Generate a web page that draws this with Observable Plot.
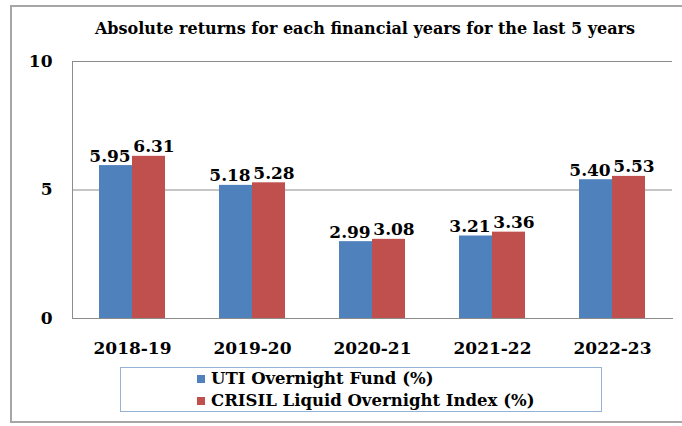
<!DOCTYPE html>
<html>
<head>
<meta charset="utf-8">
<script src="https://cdn.jsdelivr.net/npm/d3@7"></script>
<script src="https://cdn.jsdelivr.net/npm/@observablehq/plot@0.6"></script>
<style>
  html, body { margin: 0; padding: 0; background: #fff; overflow: hidden; width: 682px; height: 426px; }
  #wrap { position: relative; width: 682px; height: 426px; overflow: hidden; font-family: "DejaVu Serif", serif; font-weight: bold; color: #000; }
  #frame { position: absolute; left: 10px; top: 5px; width: 720px; height: 418px; border-left: 2px solid #a6a6a6; border-top: 2px solid #a6a6a6; border-bottom: 2px solid #a6a6a6; box-sizing: border-box; }
  #title { position: absolute; left: 48px; width: 634px; top: 20px; text-align: center; font-size: 16px; line-height: 17px; }
  #chart { position: absolute; left: 0; top: 0; }
  #legend { position: absolute; left: 120px; top: 367px; width: 482px; height: 45px; border: 1.5px solid #95b3d7; box-sizing: border-box; }
  .item { position: absolute; left: 76px; font-size: 16.5px; line-height: 19px; white-space: nowrap; }
  .sw { display: inline-block; width: 8px; height: 8px; margin-right: 6px; vertical-align: 1px; }
</style>
</head>
<body>
<div id="wrap">
  <div id="frame"></div>
  <div id="chart"></div>
  <div id="title"></div>
  <div id="legend"></div>
</div>
<script>
const titleText = "Absolute returns for each financial years for the last 5 years";
const years = ["2018-19", "2019-20", "2020-21", "2021-22", "2022-23"];
const seriesNames = ["UTI Overnight Fund (%)", "CRISIL Liquid Overnight Index (%)"];
const utiValues = [5.95, 5.18, 2.99, 3.21, 5.40];
const crisilValues = [6.31, 5.28, 3.08, 3.36, 5.53];
const seriesColors = ["#4f81bd", "#c0504d"];
const yTicks = [0, 5, 10];

const rows = [];
years.forEach((yr, i) => {
  rows.push({year: yr, series: seriesNames[0], value: utiValues[i]});
  rows.push({year: yr, series: seriesNames[1], value: crisilValues[i]});
});

const grid = "#8c8c8c";
const labelOpts = (name, dx) => ({
  filter: d => d.series === name,
  fx: "year", x: "series", y: "value",
  text: d => d.value.toFixed(2),
  lineAnchor: "bottom", dy: -4, dx, fill: "#000"
});

const chart = Plot.plot({
  width: 682,
  height: 426,
  marginTop: 61,
  marginBottom: 108,
  marginLeft: 70,
  marginRight: 9,
  style: {fontFamily: "DejaVu Serif", fontSize: "17px", fontWeight: "bold", color: "#000", background: "transparent"},
  fx: {domain: years, padding: 0, label: null},
  x: {domain: seriesNames, paddingInner: 0, paddingOuter: 0.77, axis: null},
  y: {domain: [0, 10], axis: null, label: null},
  color: {domain: seriesNames, range: seriesColors},
  marks: [
    Plot.ruleY(yTicks.filter(t => t > 0), {stroke: grid, strokeOpacity: 1}),
    Plot.frame({anchor: "bottom", stroke: grid, strokeOpacity: 1}),
    Plot.frame({anchor: "left", stroke: grid, strokeOpacity: 1, facetAnchor: "left"}),
    Plot.barY(rows, {fx: "year", x: "series", y: "value", fill: "series"}),
    Plot.text(rows, labelOpts(seriesNames[0], -6)),
    Plot.text(rows, labelOpts(seriesNames[1], 5)),
    Plot.axisY({ticks: yTicks, tickSize: 0, tickPadding: 20, anchor: "left", label: null, fill: "#000"}),
    Plot.axisFx({anchor: "bottom", tickSize: 0, tickPadding: 23, label: null, fill: "#000"})
  ]
});
document.getElementById("chart").appendChild(chart);
document.getElementById("title").textContent = titleText;

const legend = document.getElementById("legend");
seriesNames.forEach((name, i) => {
  const it = document.createElement("div");
  it.className = "item";
  it.style.top = (i === 0 ? 1 : 23) + "px";
  const sw = document.createElement("span");
  sw.className = "sw";
  sw.style.background = seriesColors[i];
  it.appendChild(sw);
  it.appendChild(document.createTextNode(name));
  legend.appendChild(it);
});
</script>
</body>
</html>
